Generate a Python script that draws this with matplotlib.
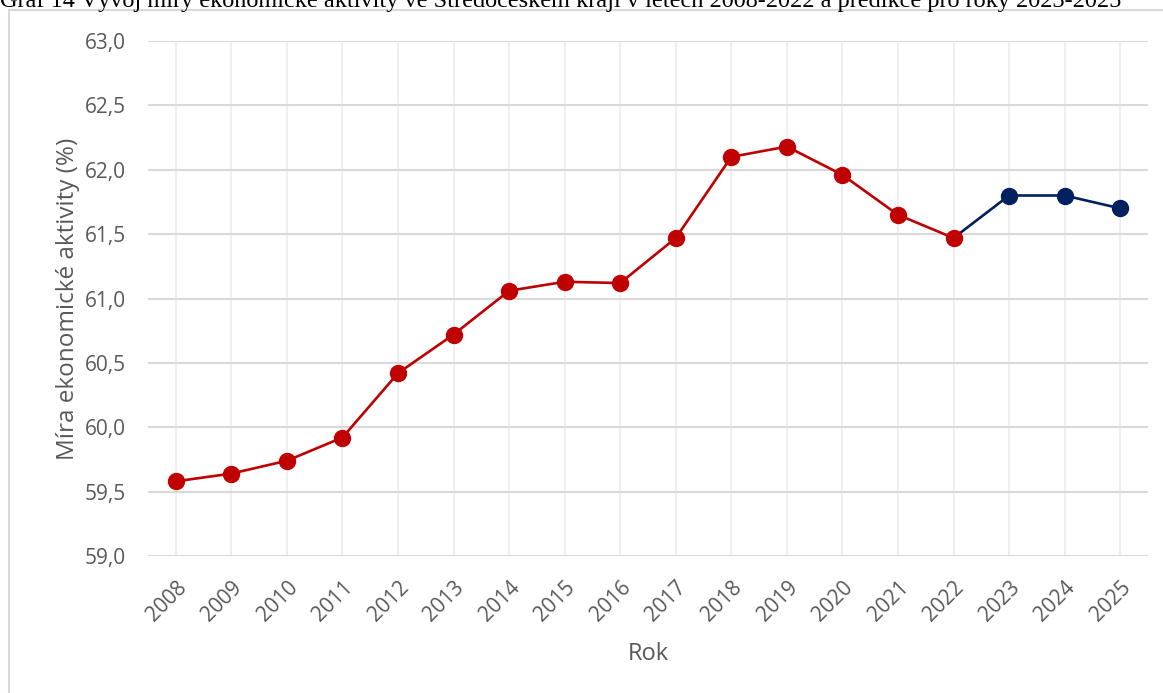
import matplotlib.pyplot as plt
from matplotlib.patches import Rectangle
from matplotlib.ticker import FuncFormatter
from matplotlib.transforms import ScaledTranslation

years = [str(y) for y in range(2008, 2026)]
actual = [59.58, 59.64, 59.74, 59.92, 60.42, 60.72, 61.06, 61.13, 61.12,
          61.47, 62.10, 62.18, 61.96, 61.65, 61.47]
forecast = [61.47, 61.80, 61.80, 61.70]  # 2022 repeated to join the lines

red = "#c00000"
navy = "#002060"
grey_txt = "#595959"

plt.rcParams['font.family'] = ['Open Sans', 'DejaVu Sans']

fig = plt.figure(figsize=(11.63, 6.93), dpi=100)
ax = fig.add_axes([148 / 1163, 1 - 556 / 693, 1000 / 1163, 515 / 693])

x_act = list(range(len(actual)))
x_fc = list(range(len(actual) - 1, len(years)))
ax.plot(x_fc, forecast, color=navy, lw=1.9, zorder=3)
ax.plot(x_fc[1:], forecast[1:], 'o', color=navy, ms=11.5, zorder=4)
ax.plot(x_act, actual, color=red, lw=1.9, marker='o', ms=11.5, zorder=5)

ax.set_xlim(-0.5, len(years) - 0.5)
ax.set_ylim(59.0, 63.0)
ax.set_yticks([59.0 + 0.5 * i for i in range(9)])
ax.yaxis.set_major_formatter(FuncFormatter(lambda v, p: f"{v:.1f}".replace('.', ',')))
ax.set_xticks(range(len(years)))
ax.set_xticklabels(years, rotation=45, ha='right', rotation_mode='anchor')
shift = ScaledTranslation(5 / 100, 0, fig.dpi_scale_trans)
for lab in ax.get_xticklabels():
    lab.set_transform(lab.get_transform() + shift)

ax.grid(axis='y', color='#d9d9d9', lw=1.5)
ax.grid(axis='x', color='#efefef', lw=1.5)
ax.set_axisbelow(True)
for s in ax.spines.values():
    s.set_visible(False)
ax.tick_params(length=0, labelsize=15, colors=grey_txt)
ax.tick_params(axis='y', pad=16)
ax.tick_params(axis='x', pad=15)

ax.set_ylabel("Míra ekonomické aktivity (%)", fontsize=17.5, color=grey_txt, labelpad=3)
ax.set_xlabel("Rok", fontsize=17, color=grey_txt, labelpad=12)

# chart frame (cut by the page edges)
fig.patches.append(Rectangle((9 / 1163, -0.05), 1.2, 1 - 10 / 693 + 0.05,
                             transform=fig.transFigure, fill=False,
                             edgecolor='#d9d9d9', lw=1.5))

fig.text(0, 1 - 7 / 693,
         "Graf 14 Vývoj míry ekonomické aktivity ve Středočeském kraji v letech 2008-2022 a predikce pro roky 2023-2025",
         family='Liberation Serif', fontsize=17.5, va='baseline', ha='left', color='black')

fig.savefig("out.png", dpi=100)
